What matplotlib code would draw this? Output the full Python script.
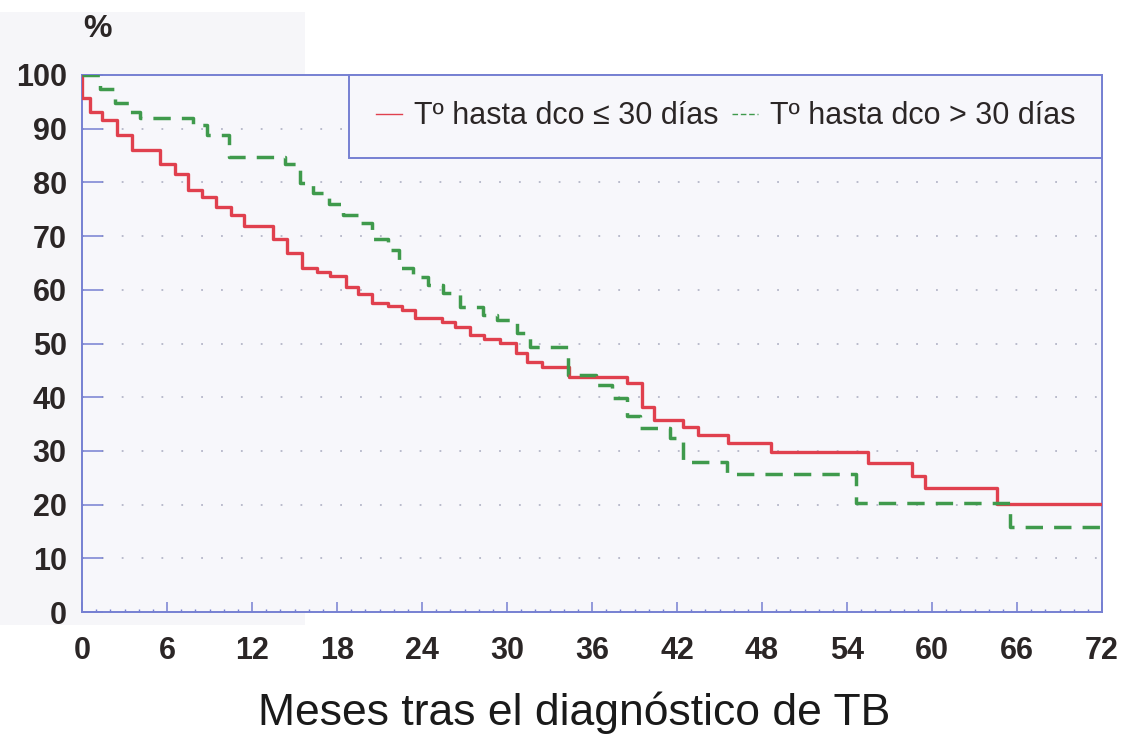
import numpy as np
import matplotlib
matplotlib.use("Agg")
from matplotlib import pyplot as plt
import matplotlib as mpl
from matplotlib.lines import Line2D
from matplotlib.patches import Rectangle

plt.rcParams['font.family'] = ['Liberation Sans', 'DejaVu Sans']

# Survival (%) by months after TB diagnosis, step curves
red_t = [0, 0, 0.56, 1.39, 2.45, 3.51, 5.5, 6.56, 7.48, 8.47,
         9.46, 10.5, 11.4, 13.5, 14.5, 15.5, 16.6, 17.5, 18.6, 19.5,
         20.5, 21.6, 22.6, 23.5, 25.4, 26.3, 27.4, 28.4, 29.5, 30.6,
         31.4, 32.5, 34.4, 38.5, 39.5, 40.4, 42.4, 43.5, 45.6, 48.6,
         55.5, 58.6, 59.5, 64.6, 72]
red_s = [100, 95.7, 93.1, 91.6, 88.8, 86.0, 83.4, 81.5, 78.6, 77.2,
         75.4, 73.9, 71.9, 69.5, 66.8, 64.0, 63.3, 62.6, 60.5, 59.2,
         57.6, 57.0, 56.2, 54.7, 54.0, 53.1, 51.6, 50.8, 50.1, 48.2,
         46.6, 45.6, 43.8, 42.6, 38.2, 35.8, 34.5, 33.0, 31.5, 29.8,
         27.7, 25.3, 23.1, 20.1, 20.1]

green_t = [0, 1.3, 2.3, 3.4, 4.1, 7.8, 8.8, 10.4, 14.3, 15.4,
           16.3, 17.4, 18.4, 19.6, 20.5, 21.6, 22.4, 23.4, 24.4, 25.5,
           26.7, 28.3, 29.3, 30.7, 31.6, 34.3, 36.3, 37.4, 38.5, 39.4,
           41.5, 42.4, 45.5, 54.6, 65.5, 72]
green_s = [100, 97.3, 94.8, 93.1, 92.0, 90.7, 88.8, 84.8, 83.4, 79.9,
           78.0, 76.0, 74.0, 72.4, 69.5, 67.4, 64.0, 62.4, 60.9, 59.4,
           56.8, 55.3, 54.4, 52.0, 49.3, 44.1, 42.3, 39.8, 36.5, 34.3,
           32.4, 27.9, 25.7, 20.3, 15.8, 15.8]

x_ticks = list(range(0, 73, 6))
y_ticks = list(range(0, 101, 10))
red_label = 'T\u00ba hasta dco \u2264 30 d\u00edas'
green_label = 'T\u00ba hasta dco > 30 d\u00edas'

RED = '#e0404e'
GREEN = '#3f9a4c'
BLUE = '#7680d2'
TEXT = '#2b2626'

fig = plt.figure(figsize=(11.32, 7.38), dpi=100, facecolor='white')
# faint panel behind the y labels and the % sign
fig.patches.append(Rectangle((0.0, 1 - 625 / 738), 305 / 1132, (625 - 12) / 738,
                             transform=fig.transFigure, facecolor='#f6f6f9',
                             edgecolor='none', zorder=-5))
ax = fig.add_axes([82 / 1132, 1 - 612 / 738, 1020 / 1132, 537 / 738])
ax.set_facecolor('#f7f7fb')

ax.step(red_t, red_s, where='post', color=RED, linewidth=2.4, zorder=3)
ax.step(green_t, green_s, where='post', color=GREEN, linewidth=2.5,
        linestyle=(0, (5, 3.2)), zorder=4)

ax.set_xlim(0, 72)
ax.set_ylim(0, 100)

# dotted horizontal grid
for y in y_ticks[1:-1]:
    ax.axhline(y, color='#b4b6c8', linestyle=(0, (1, 10)), linewidth=1.3, zorder=1)

for side in ['left', 'right', 'top', 'bottom']:
    ax.spines[side].set_color(BLUE)
    ax.spines[side].set_linewidth(1.4)

ax.set_xticks(x_ticks)
ax.set_yticks(y_ticks)
ax.xaxis.set_minor_locator(mpl.ticker.MultipleLocator(1))
ax.tick_params(axis='x', which='major', direction='in', length=7, width=1.1,
               color=BLUE, pad=17, labelsize=22, labelcolor=TEXT)
ax.tick_params(axis='x', which='minor', direction='in', length=2.5, width=1.0, color=BLUE)
ax.tick_params(axis='y', which='major', direction='in', length=15, width=1.1,
               color=BLUE, pad=11, labelsize=22, labelcolor=TEXT)
for lab in ax.get_xticklabels() + ax.get_yticklabels():
    lab.set_fontweight('bold')

ax.set_xlabel('Meses tras el diagn\u00f3stico de TB', fontsize=32, color='#1a1a1a')
ax.xaxis.set_label_coords(0.483, -0.148)
fig.text(98 / 1132, 1 - 29 / 738, '%', fontsize=23, fontweight='bold', color=TEXT,
         ha='center', va='center')

handles = [Line2D([], [], color=RED, linewidth=1.0),
           Line2D([], [], color=GREEN, linewidth=1.0, linestyle=(0, (4, 2)))]
leg = ax.legend(handles, [red_label, green_label], loc='upper right',
                bbox_to_anchor=(1, 1), borderaxespad=0, ncol=2, fontsize=22,
                frameon=True, fancybox=False, framealpha=1, handlelength=0.85,
                handletextpad=0.4, columnspacing=0.45, borderpad=0.86)
leg.get_frame().set_edgecolor(BLUE)
leg.get_frame().set_linewidth(1.4)
leg.get_frame().set_facecolor('#f7f7fb')
for t in leg.get_texts():
    t.set_color(TEXT)

plt.savefig('out.png', dpi=100, facecolor=fig.get_facecolor())
